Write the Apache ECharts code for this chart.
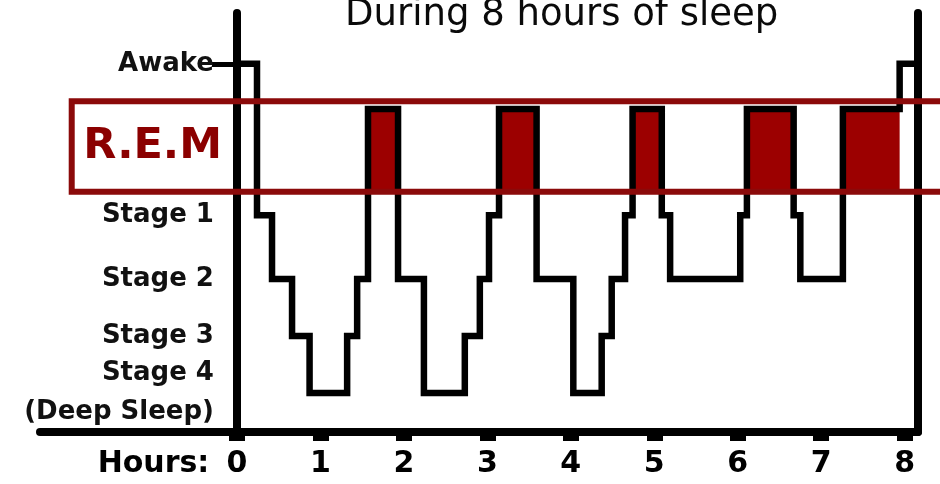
<!DOCTYPE html>
<html><head><meta charset="utf-8">
<script src="https://cdn.jsdelivr.net/npm/echarts@6/dist/echarts.min.js"></script>
<style>html,body{margin:0;padding:0;background:#fff}#c{width:940px;height:484px}</style>
</head><body><div id="c"></div>
<script>
// ---- data ----
const titleText = 'During 8 hours of sleep';
const hourTicks = [0, 1, 2, 3, 4, 5, 6, 7, 8];
const hourAxisName = 'Hours:';
const stageKeys   = ['S4', 'S3', 'S2', 'S1', 'REM', 'W'];
const stageLabels = ['Stage 4\n(Deep Sleep)', 'Stage 3', 'Stage 2', 'Stage 1', 'R.E.M', 'Awake'];
const stageLevels = [0.70, 1.72, 2.74, 3.88, 5.78, 6.59];
const remBand = [4.30, 5.92];           // y range of the R.E.M band
const remBandHours = [-1.98, 8.6];      // x range of the R.E.M band
const hourRange = [-2.36, 8.16];
const levelRange = [0, 7.5];
const segStart = [0, 0.24, 0.42, 0.66, 0.87, 1.32, 1.44, 1.57, 1.93, 2.24, 2.73, 2.91, 3.02, 3.14,
                  3.59, 4.03, 4.37, 4.49, 4.65, 4.74, 5.09, 5.19, 6.03, 6.11, 6.67, 6.75, 7.26, 7.94];
const segStage = ['W', 'S1', 'S2', 'S3', 'S4', 'S3', 'S2', 'REM', 'S2', 'S4', 'S3', 'S2', 'S1', 'REM',
                  'S2', 'S4', 'S3', 'S2', 'S1', 'REM', 'S1', 'S2', 'S1', 'REM', 'S1', 'S2', 'REM', 'W'];
const sleepEnd = 8.36;

// ---- derived ----
const levelOf = k => stageLevels[stageKeys.indexOf(k)];
const stepData = segStart.map((t, i) => [t, levelOf(segStage[i])]);
stepData.push([sleepEnd, levelOf(segStage[segStage.length - 1])]);
const remBlocks = [];
segStart.forEach((t, i) => {
  if (segStage[i] === 'REM') remBlocks.push([t, i + 1 < segStart.length ? segStart[i + 1] : sleepEnd]);
});
const labelValues = stageKeys.map((k, i) => k === 'REM' ? (remBand[0] + remBand[1]) / 2 : stageLevels[i]);

const chart = echarts.init(document.getElementById('c'), null, {renderer: 'canvas'});
const labelFont = '"DejaVu Sans", sans-serif';
const gridLeft = 40, gridRight = 22;
const plotWidth = 940 - gridLeft - gridRight;
// distance (px) from the grid's left edge to hour 0, where the vertical axis stands
const zeroOffset = plotWidth * (0 - hourRange[0]) / (hourRange[1] - hourRange[0]);

chart.setOption({
  animation: false,
  backgroundColor: '#fff',
  title: {
    text: titleText, left: 345, top: -3, padding: 0,
    textStyle: {fontFamily: '"DejaVu Sans", sans-serif', fontSize: 37, fontWeight: 'normal', color: '#0a0a0a'}
  },
  grid: {left: gridLeft, right: gridRight, top: 13, bottom: 52, containLabel: false, outerBoundsMode: 'none'},
  xAxis: {
    type: 'value', min: hourRange[0], max: hourRange[1],
    splitLine: {show: false},
    axisLine: {onZero: true, lineStyle: {color: '#000', width: 8}},
    axisTick: {show: true, customValues: hourTicks, length: 9, lineStyle: {color: '#000', width: 16}},
    axisLabel: {
      customValues: [-1].concat(hourTicks),
      formatter: v => v < 0 ? hourAxisName : String(Math.round(v)),
      fontFamily: labelFont, fontSize: 30, fontWeight: 'bold', color: '#000', margin: 17
    }
  },
  yAxis: [{
    type: 'value', min: levelRange[0], max: levelRange[1], position: 'left',
    splitLine: {show: false},
    axisLine: {onZero: true, lineStyle: {color: '#000', width: 8}},
    axisTick: {show: true, customValues: [levelOf('W')], length: 25, lineStyle: {color: '#000', width: 5}},
    axisLabel: {
      customValues: labelValues,
      margin: 15 - zeroOffset,
      formatter: v => {
        let best = 0;
        labelValues.forEach((lv, i) => { if (Math.abs(lv - v) < Math.abs(labelValues[best] - v)) best = i; });
        return stageKeys[best] === 'REM' ? '{rem|' + stageLabels[best] + '}' : '{s|' + stageLabels[best] + '}';
      },
      rich: {
        s: {fontFamily: labelFont, fontSize: 26, fontWeight: 'bold', color: '#111', padding: [0, 8, 0, 0], lineHeight: 39, align: 'right'},
        rem: {fontFamily: '"DejaVu Sans", sans-serif', fontSize: 43, fontWeight: 'bold', color: '#8b0000'}
      }
    }
  }, {
    type: 'value', min: levelRange[0], max: levelRange[1], position: 'right',
    splitLine: {show: false}, axisTick: {show: false}, axisLabel: {show: false},
    axisLine: {show: true, onZero: false, lineStyle: {color: '#000', width: 8}}
  }],
  series: [{
    type: 'custom', name: 'REM blocks', z: 1, clip: false,
    data: remBlocks,
    encode: {x: [0, 1]},
    renderItem: (params, api) => {
      const p0 = api.coord([api.value(0), levelOf('REM')]);
      const p1 = api.coord([api.value(1), remBand[0]]);
      return {type: 'rect', shape: {x: p0[0], y: p0[1], width: p1[0] - p0[0], height: p1[1] - p0[1]},
              style: {fill: '#9c0000'}};
    }
  }, {
    type: 'line', name: 'Sleep stage', z: 3, clip: false,
    step: 'end', showSymbol: false, symbol: 'none',
    data: stepData,
    lineStyle: {color: '#000', width: 6.5, cap: 'square', join: 'miter'}
  }, {
    type: 'custom', name: 'REM band', z: 4, clip: false,
    data: [remBandHours],
    encode: {x: [0, 1]},
    renderItem: (params, api) => {
      const p0 = api.coord([api.value(0), remBand[1]]);
      const p1 = api.coord([api.value(1), remBand[0]]);
      return {type: 'rect', shape: {x: p0[0], y: p0[1], width: p1[0] - p0[0], height: p1[1] - p0[1]},
              style: {fill: 'none', stroke: '#8b0a0a', lineWidth: 6}};
    }
  }]
});
</script>
</body></html>
